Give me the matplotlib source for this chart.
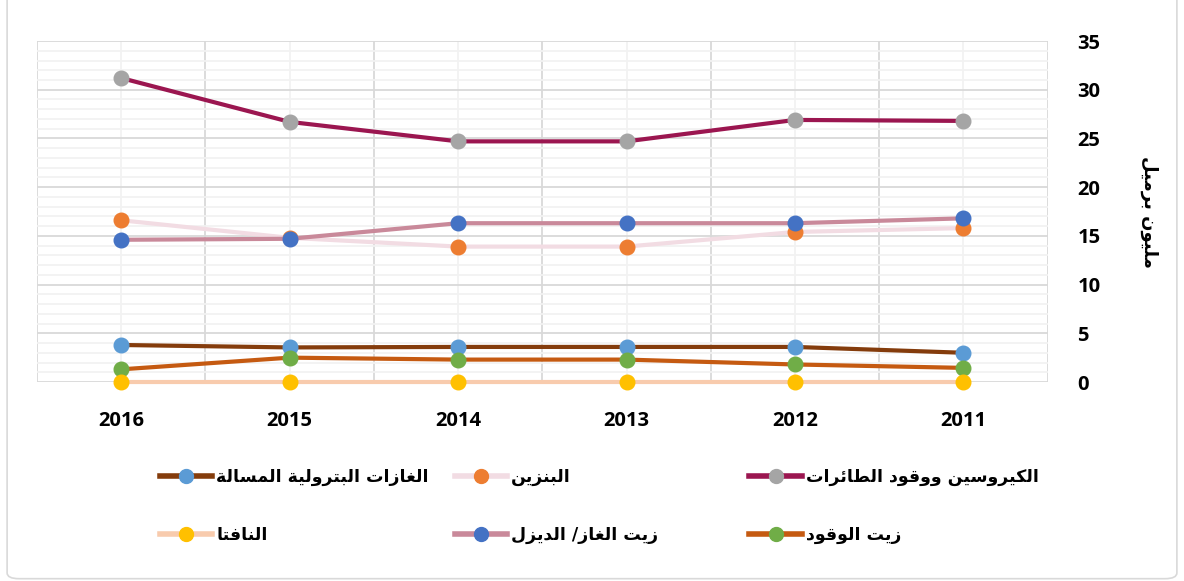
import matplotlib
matplotlib.use('Agg')
import matplotlib.pyplot as plt
from matplotlib.ticker import MultipleLocator, FixedLocator
from matplotlib.lines import Line2D
from matplotlib.patches import FancyBboxPatch

years = ['2016', '2015', '2014', '2013', '2012', '2011']

kerosene = [31.2, 26.7, 24.7, 24.7, 26.9, 26.8]
gasoline = [16.6, 14.8, 13.9, 13.9, 15.4, 15.8]
lpg = [3.8, 3.55, 3.6, 3.6, 3.6, 3.0]
fuel_oil = [1.3, 2.5, 2.3, 2.3, 1.8, 1.45]
diesel = [14.6, 14.7, 16.3, 16.3, 16.3, 16.8]
naphtha = [0.0, 0.0, 0.0, 0.0, 0.0, 0.0]

names = ['الكيروسين ووقود الطائرات', 'البنزين', 'الغازات البترولية المسالة',
         'زيت الوقود', 'زيت الغاز/ الديزل', 'النافتا']
y_title = 'مليون برميل'

# (line colour, marker colour)
STYLES = [('#9B1650', '#A5A5A5'),
          ('#F2DCE3', '#ED7D31'),
          ('#843C0C', '#5B9BD5'),
          ('#C55A11', '#70AD47'),
          ('#C9899A', '#4472C4'),
          ('#F8CBAD', '#FFC000')]

# Arabic shaping: isolated, final, initial, medial presentation forms
FORMS = {
    'ا': (0xFE8D, 0xFE8E, None, None), 'ة': (0xFE93, 0xFE94, None, None),
    'د': (0xFEA9, 0xFEAA, None, None), 'ر': (0xFEAD, 0xFEAE, None, None),
    'ز': (0xFEAF, 0xFEB0, None, None), 'و': (0xFEED, 0xFEEE, None, None),
    'ب': (0xFE8F, 0xFE90, 0xFE91, 0xFE92), 'ت': (0xFE95, 0xFE96, 0xFE97, 0xFE98),
    'س': (0xFEB1, 0xFEB2, 0xFEB3, 0xFEB4), 'ط': (0xFEC1, 0xFEC2, 0xFEC3, 0xFEC4),
    'غ': (0xFECD, 0xFECE, 0xFECF, 0xFED0), 'ف': (0xFED1, 0xFED2, 0xFED3, 0xFED4),
    'ق': (0xFED5, 0xFED6, 0xFED7, 0xFED8), 'ك': (0xFED9, 0xFEDA, 0xFEDB, 0xFEDC),
    'ل': (0xFEDD, 0xFEDE, 0xFEDF, 0xFEE0), 'م': (0xFEE1, 0xFEE2, 0xFEE3, 0xFEE4),
    'ن': (0xFEE5, 0xFEE6, 0xFEE7, 0xFEE8), 'ي': (0xFEF1, 0xFEF2, 0xFEF3, 0xFEF4),
    'ئ': (0xFE89, 0xFE8A, 0xFE8B, 0xFE8C),
}


def shape(text):
    out = []
    n = len(text)
    for i, ch in enumerate(text):
        if ch not in FORMS:
            out.append(ch)
            continue
        iso, fin, ini, med = FORMS[ch]
        prev = text[i - 1] if i > 0 else ''
        nxt = text[i + 1] if i < n - 1 else ''
        join_prev = prev in FORMS and FORMS[prev][2] is not None
        join_next = nxt in FORMS and ini is not None
        if join_prev and join_next:
            out.append(chr(med))
        elif join_prev:
            out.append(chr(fin))
        elif join_next:
            out.append(chr(ini))
        else:
            out.append(chr(iso))
    return ''.join(out)[::-1]


AR_FONT = 'DejaVu Sans'
NUM_FONT = 'Open Sans'

fig = plt.figure(figsize=(11.84, 5.81), dpi=100)
fig.patches.append(FancyBboxPatch((0.006, 0.004), 0.988, 1.1, boxstyle='round,pad=0,rounding_size=0.01',
                                  transform=fig.transFigure, fill=False, edgecolor='#D9D9D9', lw=1.2))
ax = fig.add_axes([0.03125, 0.3425, 0.8536, 0.5869])

x = list(range(len(years)))
series = [kerosene, gasoline, lpg, fuel_oil, diesel, naphtha]
for vals, (lc, mc) in zip(series, STYLES):
    ax.plot(x, vals, color=lc, lw=3, marker='o', ms=10.5,
            mfc=mc, mec=mc, zorder=3, clip_on=False)

ax.set_xlim(-0.5, 5.5)
ax.set_ylim(0, 35)
ax.xaxis.set_major_locator(FixedLocator(x))
ax.xaxis.set_minor_locator(FixedLocator([i - 0.5 for i in range(7)]))
ax.set_xticklabels(years, fontfamily=NUM_FONT, fontweight='bold', fontsize=14.5)
ax.yaxis.set_major_locator(MultipleLocator(5))
ax.yaxis.set_minor_locator(MultipleLocator(1))
ax.yaxis.tick_right()
ax.yaxis.set_label_position('right')
for lab in ax.get_yticklabels():
    lab.set_fontfamily(NUM_FONT)
    lab.set_fontweight('bold')
    lab.set_fontsize(14.5)

ax.tick_params(axis='both', which='both', length=0)
ax.tick_params(axis='x', pad=21)
ax.tick_params(axis='y', pad=21.5)

ax.grid(True, axis='y', which='major', color='#D9D9D9', lw=1.3, zorder=1)
ax.grid(True, axis='y', which='minor', color='#F2F2F2', lw=1.3, zorder=0)
ax.grid(True, axis='x', which='minor', color='#D9D9D9', lw=1.3, zorder=1)
ax.grid(True, axis='x', which='major', color='#F2F2F2', lw=1.3, zorder=0)
for s in ax.spines.values():
    s.set_visible(False)
ax.set_axisbelow(True)

ax.set_ylabel(shape(y_title), fontfamily=AR_FONT, fontweight='bold', fontsize=13,
              rotation=270, labelpad=28, va='bottom')

# legend: three columns placed left to right, entries read right to left
col_x = [0.135, 0.384, 0.633]
col_items = [(2, 5), (1, 4), (0, 3)]
for x0, items in zip(col_x, col_items):
    hs = [Line2D([], [], color=STYLES[k][0], lw=4, marker='o', ms=10,
                 mfc=STYLES[k][1], mec=STYLES[k][1]) for k in items]
    labs = [shape(names[k]) for k in items]
    fig.legend(hs, labs, loc='upper left', bbox_to_anchor=(x0, 0.195),
               frameon=False, handlelength=3.0, handletextpad=0.25,
               labelspacing=2.3, borderpad=0, borderaxespad=0,
               prop={'family': AR_FONT, 'weight': 'bold', 'size': 12.5})

fig.savefig('out.png', dpi=100)
